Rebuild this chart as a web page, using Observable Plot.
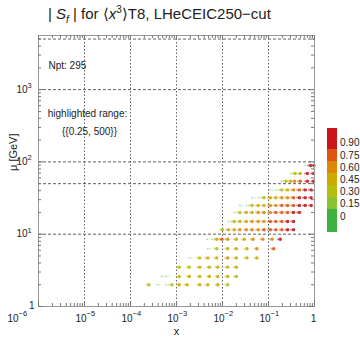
<!DOCTYPE html>
<html><head><meta charset="utf-8">
<script src="https://cdn.jsdelivr.net/npm/d3@7"></script>
<script src="https://cdn.jsdelivr.net/npm/@observablehq/plot@0.6"></script>
<style>
body{margin:0;background:#fff;}
#wrap{position:relative;width:360px;height:340px;font-family:"Liberation Sans",Arial,sans-serif;color:#222;}
#chart{position:absolute;left:0;top:0;}
#legend{position:absolute;left:0;top:0;}
#title{position:absolute;left:48px;top:2px;font-size:15px;white-space:nowrap;line-height:24px;}
#title .sb{font-size:10px;position:relative;top:4px;}
#title .sp{font-size:10px;position:relative;top:-6px;}
</style></head><body>
<div id="wrap">
<div id="chart"></div>
<svg id="legend" width="360" height="340"></svg>
<div id="title">| <i>S</i><i class="sb">f</i> | for ⟨<i>x</i><span class="sp">3</span>⟩T8, LHeCEIC250−cut</div>
</div>
<script>
// ---- data ----
const nPoints = 295;
const muRows = [89, 69, 54, 41, 32, 25, 20, 15, 11.5, 8.5, 6.3, 4.7, 3.5, 2.6, 2.0];
const xRows = [
  [0.63, 0.82, 0.97],
  [0.3, 0.38, 0.49, 0.7, 0.95],
  [0.19, 0.24, 0.3, 0.37, 0.49, 0.7, 0.95],
  [0.11, 0.145, 0.195, 0.26, 0.35, 0.47, 0.63, 0.85],
  [0.044, 0.06, 0.08, 0.11, 0.145, 0.195, 0.26, 0.35, 0.47, 0.63, 0.85],
  [0.024, 0.033, 0.044, 0.06, 0.08, 0.11, 0.145, 0.195, 0.26, 0.35, 0.47, 0.63, 0.85],
  [0.018, 0.024, 0.033, 0.044, 0.06, 0.08, 0.11, 0.145, 0.195, 0.26, 0.35, 0.47],
  [0.0135, 0.018, 0.024, 0.033, 0.044, 0.06, 0.08, 0.11, 0.145, 0.195, 0.26, 0.35],
  [0.01, 0.0135, 0.018, 0.024, 0.033, 0.044, 0.06, 0.08, 0.11, 0.145, 0.195, 0.26, 0.35],
  [0.0046, 0.006, 0.0075, 0.0097, 0.013, 0.02, 0.03, 0.046, 0.075, 0.12, 0.18],
  [0.0048, 0.0075, 0.013, 0.02, 0.034, 0.056, 0.13],
  [0.0019, 0.0032, 0.0048, 0.0075, 0.013, 0.02, 0.034, 0.056],
  [0.00115, 0.0019, 0.0032, 0.0052, 0.0079, 0.013, 0.02],
  [0.00047, 0.0006, 0.00115, 0.0019, 0.0032, 0.0052, 0.0079, 0.013, 0.02],
  [0.00025, 0.00038, 0.0006, 0.0008, 0.00115, 0.0017, 0.0032, 0.0048, 0.0079, 0.013]
];
const sRows = [
  [0.1, 0.92, 0.95],
  [0.08, 0.3, 0.5, 0.9, 0.95],
  [0.08, 0.35, 0.5, 0.65, 0.8, 0.92, 0.95],
  [0.08, 0.12, 0.4, 0.55, 0.7, 0.85, 0.92, 0.95],
  [0.06, 0.08, 0.3, 0.45, 0.55, 0.65, 0.7, 0.8, 0.9, 0.92, 0.95],
  [0.06, 0.08, 0.35, 0.5, 0.55, 0.65, 0.7, 0.75, 0.8, 0.85, 0.9, 0.92, 0.95],
  [0.08, 0.3, 0.45, 0.55, 0.6, 0.65, 0.7, 0.75, 0.8, 0.85, 0.9, 0.92],
  [0.08, 0.35, 0.5, 0.55, 0.6, 0.65, 0.7, 0.75, 0.8, 0.85, 0.9, 0.92],
  [0.35, 0.5, 0.55, 0.6, 0.6, 0.65, 0.7, 0.75, 0.8, 0.8, 0.85, 0.9, 0.92],
  [0.06, 0.08, 0.45, 0.8, 0.6, 0.55, 0.55, 0.6, 0.65, 0.7, 0.9],
  [0.08, 0.4, 0.5, 0.5, 0.55, 0.6, 0.88],
  [0.08, 0.4, 0.45, 0.5, 0.62, 0.5, 0.5, 0.45],
  [0.35, 0.4, 0.45, 0.45, 0.5, 0.5, 0.45],
  [0.06, 0.08, 0.4, 0.45, 0.45, 0.5, 0.5, 0.45, 0.4],
  [0.35, 0.06, 0.08, 0.4, 0.45, 0.45, 0.45, 0.5, 0.45, 0.4]
];
const bandColors = ["#3db33d", "#88c332", "#b3bf10", "#cdaa00", "#dc8806", "#de5312", "#c8161c"];
const thresholds = [0.15, 0.3, 0.45, 0.6, 0.75, 0.9];
const legendLabels = ["0", "0.15", "0.30", "0.45", "0.60", "0.75", "0.90"];
const xMajor = [1e-6, 1e-5, 1e-4, 1e-3, 1e-2, 1e-1, 1];
const xExp = ["−6", "−5", "−4", "−3", "−2", "−1", ""];
const yMajor = [1, 10, 100, 1000];
const yExp = ["", "1", "2", "3"];
const xGrid = [1e-5, 1e-4, 1e-3, 1e-2, 1e-1];
const yGrid = [10, 50, 100, 1000, 5000];
const highlight = "{{0.25, 500}}";

// ---- build table ----
const pts = [];
muRows.forEach((m, i) => xRows[i].forEach((x, j) => pts.push({x, mu: m, s: sRows[i][j]})));
const strong = pts.filter(d => d.s >= 0.15);
const weak = pts.filter(d => d.s < 0.15);

const minorX = [], minorY = [];
for (const d of [1e-6, 1e-5, 1e-4, 1e-3, 1e-2, 1e-1]) for (let k = 2; k <= 9; k++) minorX.push(d * k);
for (const d of [1, 10, 100, 1000]) for (let k = 2; k <= 9; k++) if (d * k <= 5600) minorY.push(d * k);

const W = 360, H = 340, mL = 38, mR = 46, mT = 35, mB = 34;
const fw = W - mL - mR, fh = H - mT - mB;
const tickC = "#777", gridC = "#3a3a3a";
const xLab = xMajor.map((v, i) => ({v, e: xExp[i]}));
const yLab = yMajor.map((v, i) => ({v, e: yExp[i]}));

const chart = Plot.plot({
  width: W, height: H, marginLeft: mL, marginRight: mR, marginTop: mT, marginBottom: mB,
  x: {type: "log", domain: [1e-6, 1], axis: null},
  y: {type: "log", domain: [1, 5600], axis: null},
  color: {type: "threshold", domain: thresholds, range: bandColors},
  style: {fontFamily: "'Liberation Sans', Arial, sans-serif", fontSize: "10px", color: "#222", background: "white"},
  marks: [
    Plot.ruleX(xGrid, {stroke: gridC, strokeWidth: 0.8, strokeDasharray: "1.5,2"}),
    Plot.ruleY(yGrid, {stroke: gridC, strokeWidth: 0.8, strokeDasharray: "3,2"}),
    Plot.dot(weak, {x: "x", y: "mu", r: 1, fill: "s", fillOpacity: 0.4}),
    Plot.dot(weak, {x: "x", y: "mu", r: 0.8, dx: 2.5, fill: "s", fillOpacity: 0.3}),
    Plot.dot(strong, {x: "x", y: "mu", r: 1.1, dx: -2.3, fill: "s", fillOpacity: 0.45}),
    Plot.dot(strong, {x: "x", y: "mu", r: 1.7, fill: "s", fillOpacity: 0.9}),
    Plot.frame({stroke: "#999"}),
    // frame ticks (inward)
    Plot.tickX(xMajor, {x: d => d, insetTop: fh - 5, stroke: tickC}),
    Plot.tickX(minorX, {x: d => d, insetTop: fh - 3, stroke: tickC}),
    Plot.tickX(xMajor, {x: d => d, insetBottom: fh - 5, stroke: tickC}),
    Plot.tickX(minorX, {x: d => d, insetBottom: fh - 3, stroke: tickC}),
    Plot.tickY(yMajor, {y: d => d, insetRight: fw - 5, stroke: tickC}),
    Plot.tickY(minorY, {y: d => d, insetRight: fw - 3, stroke: tickC}),
    Plot.tickY(yMajor, {y: d => d, insetLeft: fw - 5, stroke: tickC}),
    Plot.tickY(minorY, {y: d => d, insetLeft: fw - 3, stroke: tickC}),
    // x tick labels
    Plot.text(xLab.filter(d => d.e && d.v > 1e-6), {x: "v", y: 1, text: () => "10", textAnchor: "end", dx: 2, dy: 12}),
    Plot.text(xLab.filter(d => d.e && d.v > 1e-6), {x: "v", y: 1, text: "e", textAnchor: "start", dx: 2, dy: 7, fontSize: 7.5}),
    Plot.text(xLab.filter(d => d.v === 1e-6), {x: "v", y: 1, text: () => "10", textAnchor: "end", dx: -20, dy: 12}),
    Plot.text(xLab.filter(d => d.v === 1e-6), {x: "v", y: 1, text: "e", textAnchor: "start", dx: -20, dy: 7, fontSize: 7.5}),
    Plot.text(xLab.filter(d => !d.e), {x: "v", y: 1, text: () => "1", textAnchor: "middle", dx: -1, dy: 12}),
    // y tick labels
    Plot.text(yLab.filter(d => d.e), {y: "v", frameAnchor: "left", text: () => "10", textAnchor: "end", dx: -11}),
    Plot.text(yLab.filter(d => d.e), {y: "v", frameAnchor: "left", text: "e", textAnchor: "start", dx: -11, dy: -4, fontSize: 7.5}),
    Plot.text(yLab.filter(d => !d.e), {y: "v", frameAnchor: "left", text: () => "1", textAnchor: "end", dx: -4, dy: -1}),
    // axis titles
    Plot.text(["x"], {frameAnchor: "bottom", dy: 28, fontSize: 11}),
    Plot.text(["μ [GeV]"], {frameAnchor: "left", rotate: -90, dx: -25, fontSize: 11}),
    // annotations
    Plot.text([`Npt: ${nPoints}`], {frameAnchor: "top-left", textAnchor: "start", dx: 10, dy: 26}),
    Plot.text(["highlighted range:"], {frameAnchor: "top-left", textAnchor: "middle", dx: 49, dy: 74}),
    Plot.text([highlight], {frameAnchor: "top-left", textAnchor: "middle", dx: 51, dy: 92})
  ]
});
document.getElementById("chart").appendChild(chart);

// ---- colour bar legend ----
const edges = [232, 209, 197, 185, 173, 161, 149, 128];
const labY = [216, 203, 191, 179, 167, 155, 142];
const lg = d3.select("#legend");
bandColors.forEach((c, i) => {
  lg.append("rect").attr("x", 327).attr("y", edges[i + 1]).attr("width", 10)
    .attr("height", edges[i] - edges[i + 1]).attr("fill", c);
  lg.append("text").attr("x", 340).attr("y", labY[i]).attr("dy", "0.35em")
    .attr("font-family", "'Liberation Sans', Arial, sans-serif").attr("font-size", 10)
    .attr("fill", "#222").text(legendLabels[i]);
});
</script>
</body></html>
